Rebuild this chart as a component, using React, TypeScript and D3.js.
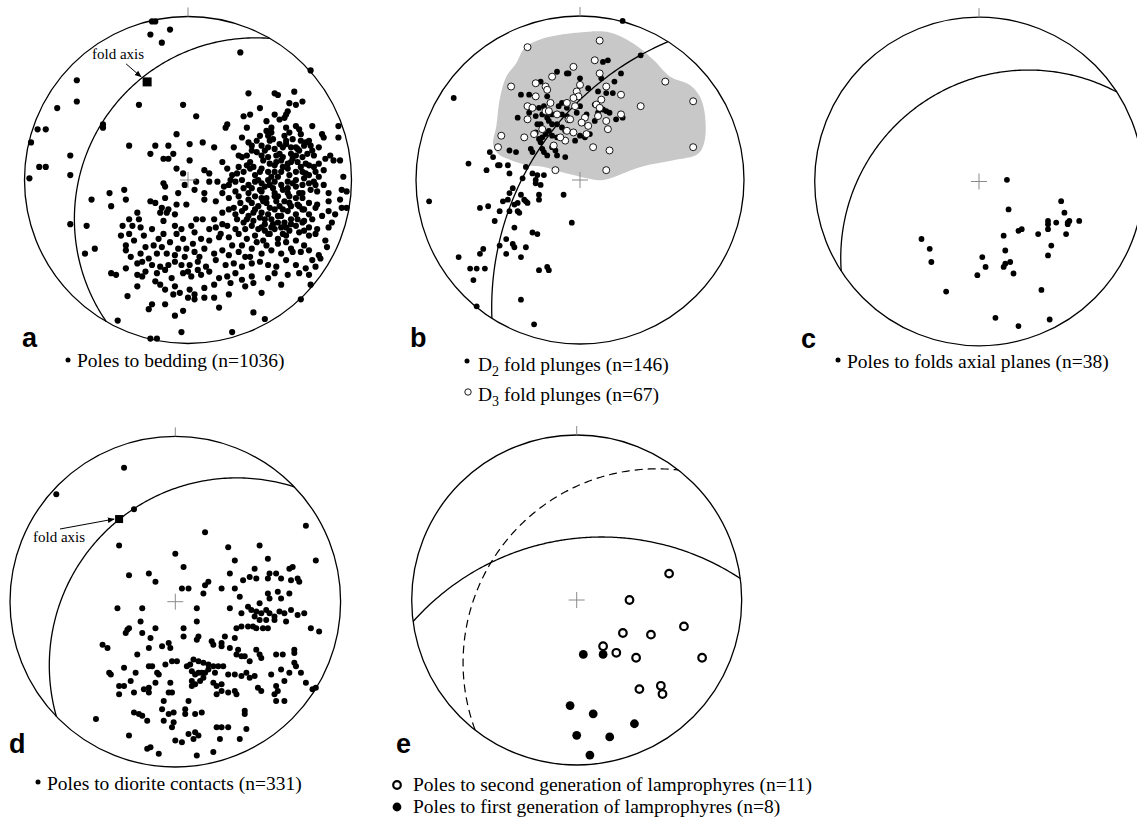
import React from 'react';
import * as d3 from 'd3';

type Pt = [number, number];

const beddingPoles: Pt[] = [
  [-22,97],[-20,97],[-23,89],[-11,92],[-16,84],[32,78],[75,67],[-68,61],[-68,48],[-80,44],[-92,31],[-87,31],
  [-96,23],[-72,15],[-91,8],[-87,8],[-97,1],[-72,3],[-72,-27],[-62,-28],[-57,-42],[-63,-45],[-59,-12],
  [37,53],[53,53],[55,52],[65,54],[70,48],[62,47],[66,46],[44,44],[-30,46],[-3,46],[61,42],[34,39],[38,40],
  [53,40],[60,40],[56,37],[59,38],[48,36],[5,39],[24,34],[23,32],[36,32],[51,32],[66,33],[68,31],[76,33],
  [92,33],[62,29],[51,29],[-52,34],[-52,32],[-7,28],[49,27],[50,24],[33,26],[37,23],[42,24],[45,21],[1,22],
  [9,23],[16,20],[28,20],[39,21],[60,24],[69,24],[82,28],[83,26],[92,26],[63,20],[67,19],[71,21],[75,21],
  [53,19],[58,20],[-36,21],[-20,21],[-12,21],[-9,16],[-23,16],[-15,13],[-12,13],[1,12],[21,11],[31,15],
  [33,14],[36,15],[38,11],[45,15],[49,14],[54,11],[57,12],[61,10],[66,15],[70,14],[77,15],[84,13],[87,15],
  [89,12],[93,12],[39,18],[63,11],[74,9],[77,8],[80,10],[-7,7],[-3,4],[10,6],[13,4],[24,7],[27,3],[31,8],
  [34,5],[38,7],[41,3],[45,7],[49,5],[53,9],[57,5],[61,7],[66,5],[70,5],[74,3],[78,5],[83,6],[95,2],[5,-1],
  [-15,-2],[-14,-4],[-2,-3],[13,-1],[18,-1],[22,-4],[25,-3],[29,-1],[33,0],[37,-3],[41,-1],[45,-2],[49,0],
  [53,-1],[57,-3],[61,-1],[66,0],[70,-3],[74,-2],[78,-3],[83,-3],[94,-6],[97,-7],[-48,-8],[-39,-6],[-6,-8],
  [4,-6],[10,-8],[21,-8],[29,-7],[37,-8],[45,-7],[53,-8],[61,-8],[70,-8],[79,-7],[86,-8],
  [44,27],[47,18],[52,25],[56,16],[60,22],[64,13],[68,18],[72,10],[58,8],[50,10],[43,0],[47,-4],[55,2],
  [62,3],[66,-4],[71,1],[75,-6],[52,-5],[40,8],[46,12],[54,15],[59,27],[63,16],[69,8],[73,16],[49,20],
  [42,17],[36,9],[30,4],[34,-5],[26,0],[39,-5],[61,-5],[67,11],[64,25],[55,-10],[48,-11],[41,-10],[70,-11],
  [77,-1],[80,2],[72,23],[76,18],[53,5],[44,5],[58,14],[66,20],[62,-10],[51,2],
  [48,-14],[56,-16],[63,-24],[44,-23],[52,-27],[68,-16],[58,-33],[40,-20],[71,-31],[35,-30],[47,-31],[62,-14],
  [46,-13],[50,-17],[54,-13],[58,-18],[63,-16],[67,-15],[71,-18],[43,-16],[39,-14],[35,-17],[47,-24],
  [51,-24],[55,-22],[59,-26],[63,-27],[67,-24],[71,-25],[40,-25],[36,-24],[45,-29],[49,-33],[53,-30],
  [57,-29],[62,-31],[68,-32],[42,-38],[48,-40],[55,-39],[60,-38],[64,-44],[71,-40],[30,-24],[32,-14],
  [28,-17],[21,-27],[19,-35],[27,-40],[33,-40],[38,-47],[76,-24],[82,-22],[79,-30],[58,-6],[68,-8],[44,-6],
  [50,-3],[64,-2],[72,4],[56,22],[48,30],[60,32],[69,28],[74,24],[80,20],
  [-33,-37],[-29,-45],[-24,-48],[-19,-45],[-11,-38],[-6,-42],[-2,-47],[3,-39],[7,-47],[-26,-56],[-35,-47],
  [-12,-52],[0,-56],[6,-55],[-20,-62],[-9,-70],[10,-72],[-29,-29],[-22,-30],[-18,-36],
  [-47,-16],[-38,-12],[-23,-13],[-20,-14],[-14,-11],[-7,-15],[-1,-15],[10,-12],[17,-13],[25,-11],[31,-10],
  [37,-12],[45,-11],[53,-10],[59,-13],[66,-11],[74,-14],[79,-15],[86,-13],[93,-12],[94,-17],[97,-17],
  [-16,-17],[-12,-18],[-17,-20],[-13,-20],[-8,-21],[5,-24],[9,-24],[16,-24],[21,-20],[25,-18],[29,-21],
  [33,-19],[37,-22],[41,-18],[45,-20],[49,-21],[53,-18],[57,-22],[61,-19],[66,-21],[70,-18],[74,-21],
  [78,-17],[86,-19],[90,-21],
  [-36,-24],[-30,-24],[-31,-20],[-40,-28],[-34,-28],[-15,-25],[-8,-28],[-4,-30],[2,-28],[13,-30],[17,-29],
  [24,-28],[29,-30],[34,-26],[39,-28],[43,-30],[47,-27],[51,-29],[55,-26],[60,-29],[66,-28],[70,-26],
  [74,-29],[86,-29],[88,-26],
  [-41,-34],[-36,-33],[-27,-34],[-15,-33],[-7,-33],[-3,-36],[4,-32],[8,-36],[13,-37],[20,-33],[25,-35],
  [31,-33],[36,-36],[41,-34],[46,-37],[50,-33],[55,-36],[60,-34],[66,-37],[74,-34],[78,-33],[84,-37],[85,-41],
  [-38,-40],[-38,-43],[-26,-41],[-21,-40],[-16,-41],[-13,-45],[-8,-46],[-1,-42],[4,-44],[10,-42],[16,-45],
  [21,-43],[25,-46],[31,-44],[35,-47],[39,-42],[45,-45],[51,-43],[57,-45],[63,-42],[69,-44],[74,-43],
  [80,-46],[81,-48],
  [-47,-57],[-44,-58],[-38,-54],[-31,-51],[-28,-50],[-22,-52],[-17,-53],[-8,-50],[-4,-52],[1,-52],[6,-50],
  [11,-53],[17,-49],[23,-52],[28,-51],[33,-53],[39,-51],[44,-50],[49,-52],[54,-53],[60,-49],[66,-52],
  [72,-54],[78,-53],[76,-49],
  [-31,-58],[-28,-59],[-19,-57],[-14,-55],[-10,-60],[-3,-57],[2,-59],[8,-58],[13,-56],[19,-60],[24,-59],
  [29,-57],[33,-61],[39,-59],[49,-60],[53,-57],[61,-58],[68,-57],[74,-58],
  [-31,-65],[-17,-64],[-14,-67],[-8,-65],[-5,-69],[1,-67],[4,-70],[10,-66],[16,-64],[26,-63],[35,-65],
  [40,-63],[57,-64],[45,-69],[75,-64],
  [-37,-71],[-22,-76],[-24,-79],[-14,-76],[-3,-80],[0,-72],[4,-73],[16,-72],[19,-78],[25,-70],[40,-81],[69,-73],
  [-43,-86],[-8,-83],[-4,-93],[27,-93],[47,-85],[-23,-97],[-19,-97],
];

const d2Plunges: Pt[] = [
  [26,97],[-77,50],[-92,-13],[-63,-77],[-28,-88],[-36,-73],[-5,-26],[-10,-9],[37,76],
  [14,72],[17,73],[-14,66],[-8,65],[-7,65],[0,62],[5,56],[13,62],[21,60],[25,65],[-24,60],[-36,52],[-31,52],
  [-20,51],[11,54],[16,53],[20,53],[-25,44],[-22,45],[-13,45],[-11,47],[-8,44],[0,45],[9,46],[14,43],[16,42],
  [-38,38],[-31,41],[-27,39],[-23,40],[-20,38],[-17,40],[-11,40],[-8,39],[-2,41],[4,40],[11,41],[18,41],
  [22,37],[26,38],[9,36],[-26,34],[-24,34],[-19,36],[-17,34],[-14,34],[-11,32],[-9,30],[-27,29],[-25,25],
  [-24,23],[-23,26],[-21,28],[-19,30],[-17,27],[-14,26],[0,27],[3,26],[-3,24],[6,28],[-30,19],[-29,17],
  [-23,19],[-22,17],[-20,15],[-17,20],[-15,18],[-14,15],[-9,14],[-43,18],[-39,17],[-55,17],[-53,14],
  [-68,10],[-57,6],[-50,9],[-49,9],[-44,9],[-43,4],[-35,1],[-33,8],[-29,4],[-27,0],[-27,-2],[-26,3],[-22,3],
  [-41,-5],[-43,-8],[-44,-12],[-47,-13],[-40,-15],[-38,-14],[-33,-13],[-34,-12],[-25,-9],[-25,-12],[-24,-3],
  [-36,-9],[-32,-14],[-37,-20],
  [-61,-17],[-56,-16],[-49,-19],[-52,-25],[-43,-19],[-38,-19],[-40,-29],[-29,-32],[-26,-33],[-45,-36],
  [-41,-39],[-40,-41],[-49,-40],[-33,-41],[-59,-42],[-61,-45],[-45,-45],[-36,-47],[-74,-47],[-67,-54],
  [-63,-54],[-58,-54],[-65,-61],[-25,-55],[-20,-53],[-19,-55],
];

const d3Plunges: Pt[] = [
  [12,85],[-32,81],[9,73],[-4,69],[12,65],[-17,63],[-42,57],[-27,59],[-21,57],[0,58],[-2,54],[-1,51],[52,60],
  [-27,51],[25,52],[13,49],[10,46],[-18,47],[-8,47],[-3,45],[-32,45],[-29,44],[-21,42],[-19,42],[-14,40],
  [37,45],[69,48],[3,38],[1,35],[11,39],[16,36],[25,40],[-32,37],[-7,37],[-23,31],[-28,28],[-34,26],[-8,30],
  [-4,29],[4,28],[-9,24],[-16,21],[-48,27],[-50,20],[8,20],[18,18],[69,20],[-15,6],[16,6],[-4,50],[16,57],
  [-6,37],[17,31],[12,44],[-20,55],[5,33],[-12,26],
];

const d3Envelope: Pt[] = [
  [-32,82],[-20,87],[0,90],[18,90],[33,83],[45,73],[55,63],[67,58],[73,51],[76,41],[76,24],[72,16],[57,12],
  [37,8],[14,0],[4,1],[-4,3],[-12,5],[-22,8],[-32,9],[-42,12],[-50,16],[-53,22],[-51,33],[-49,49],[-45,63],
  [-39,71],[-35,79],
];

const axialPlanePoles: Pt[] = [
  [17,1],[18,-17],[50,-12],[52,-19],[42,-24],[42,-26],[47,-25],[54,-25],[55,-24],[54,-26],[61,-24],[42,-29],
  [53,-32],[36,-32],[24,-30],[26,-29],[15,-33],[44,-39],[42,-45],[16,-42],[-35,-35],[-30,-41],[-29,-49],
  [2,-46],[4,-52],[15,-52],[16,-50],[19,-49],[21,-56],[-1,-57],[-20,-67],[38,-66],[10,-83],[24,-88],[43,-84],
];

const dioritePoles: Pt[] = [
  [-31,81],[-72,65],[-25,56],[79,46],
  [18,42],[-34,34],[32,33],[51,34],[85,25],[0,29],[36,25],[56,26],[5,21],[-28,16],[-16,17],[-12,12],[33,17],
  [48,20],[41,13],[45,15],[49,14],[56,14],[57,17],[61,17],[64,14],[69,20],[71,21],[70,13],[74,14],[75,12],
  [18,10],[20,12],[17,5],[4,8],[8,8],[28,8],[36,8],[39,3],[56,5],[62,6],[69,5],[57,2],[64,2],[51,-1],
  [-35,-4],[-20,-4],[13,-4],[33,-4],[40,-7],[44,-3],[46,-5],[49,-6],[52,-7],[55,-5],[57,-7],[60,-9],[63,-6],
  [66,-7],[70,-5],[74,-8],[78,-7],[48,-9],[51,-11],[55,-11],[60,-11],[67,-12],[-21,-12],[13,-12],[47,-15],
  [49,-16],[37,-16],[40,-15],[44,-15],[53,-16],[56,-16],[-28,-16],[-30,-19],[-29,-17],[-12,-16],[5,-16],
  [82,-16],[87,-18],[-20,-19],[5,-21],[13,-23],[14,-21],[22,-24],[23,-26],[28,-25],[28,-27],[-44,-26],
  [-41,-28],[-15,-22],[-16,-28],[-8,-27],[-4,-25],[-3,-28],[30,-21],[36,-22],[33,-28],[37,-32],[40,-33],
  [42,-33],[38,-29],[45,-36],[49,-29],[51,-32],[52,-34],[61,-32],[65,-32],[72,-29],[72,-31],[-23,-32],
  [-2,-36],[1,-36],[11,-35],[14,-36],[17,-37],[20,-38],[23,-39],[26,-39],[29,-39],[7,-39],[9,-38],[10,-42],
  [12,-44],[14,-43],[16,-43],[18,-43],[20,-41],[24,-43],[-16,-39],[-14,-39],[-6,-38],[-31,-40],[-24,-43],
  [-11,-43],[-10,-44],[-40,-43],[-39,-44],[32,-44],[36,-44],[40,-45],[43,-43],[45,-46],[48,-45],[58,-44],
  [64,-41],[69,-43],[73,-39],[76,-43],[72,-37],[-27,-48],[-34,-51],[-31,-51],[-34,-56],[-16,-52],[-16,-55],
  [-19,-53],[-3,-49],[-2,-55],[-4,-55],[-12,-49],[-25,-55],[10,-48],[12,-50],[15,-48],[17,-46],[10,-51],
  [23,-49],[25,-51],[28,-50],[25,-56],[28,-54],[32,-55],[36,-54],[37,-56],[50,-52],[52,-54],[61,-51],
  [62,-54],[60,-56],[66,-48],[79,-49],[83,-53],[85,-52],[66,-60],[61,-60],[-7,-60],[-8,-65],[8,-60],
  [-48,-71],[-25,-67],[-22,-68],[-20,-69],[-17,-72],[-7,-72],[-4,-68],[-1,-67],[6,-65],[6,-68],[12,-68],
  [16,-67],[-1,-73],[-2,-76],[42,-66],[42,-68],[25,-76],[28,-76],[32,-76],[43,-77],[-28,-81],[8,-80],
  [12,-79],[14,-81],[11,-83],[0,-84],[4,-85],[27,-83],[39,-83],[-17,-89],[-15,-88],[-10,-92],[13,-93],[23,-91],
];

const lamproSecondGen: Pt[] = [
  [56,16],[32,0],[65,-16],[28,-20],[45,-21],[16,-28],[24,-32],[36,-35],[76,-35],[38,-54],[51,-52],[52,-57],
];
const lamproFirstGen: Pt[] = [
  [4,-33],[16,-33],[-4,-64],[10,-69],[35,-75],[0,-82],[20,-83],[8,-94],
];

// great circles as [dip direction, dip] in degrees
const circleA: Pt = [300, 25.5];
const circleB: Pt = [302.5, 55.4];
const circleC: Pt = [327, 29];
const circleD: Pt = [316, 28.2];
const circleE: Pt = [352.5, 49.2];
const circleEDashed: Pt = [308, 31.7];

const foldAxisA: Pt = [-25, 60];
const foldAxisD: Pt = [-34, 50];

const RAD = Math.PI / 180;
const SERIF = '"Liberation Serif", "Times New Roman", serif';
const SANS = '"Liberation Sans", Arial, sans-serif';

const netScales = (cx: number, cy: number, r: number) => ({
  x: d3.scaleLinear().domain([-100, 100]).range([cx - r, cx + r]),
  y: d3.scaleLinear().domain([-100, 100]).range([cy + r, cy - r]),
  cx, cy, r,
});
type Net = ReturnType<typeof netScales>;

const netA = netScales(188, 180, 163.5);
const netB = netScales(580, 180, 164);
const netC = netScales(979, 181.5, 164.3);
const netD = netScales(175.3, 601.7, 165.3);
const netE = netScales(576.7, 600, 165);

// stereographic trace of a plane
const greatCircle = (n: Net, [dipDir, dip]: Pt) => {
  const pts: [number, number][] = [];
  for (let a = -90; a <= 90; a += 1) {
    const az = (dipDir + a) * RAD;
    const p = Math.atan(Math.tan(dip * RAD) * Math.cos(a * RAD));
    const rr = 100 * Math.tan((Math.PI / 2 - p) / 2);
    pts.push([n.x(rr * Math.sin(az)), n.y(rr * Math.cos(az))]);
  }
  return d3.line()(pts) || '';
};

const Frame = ({ n }: { n: Net }) => (
  <circle cx={n.cx} cy={n.cy} r={n.r} fill="none" stroke="#000" strokeWidth={1.3} />
);

const Marks = ({ n }: { n: Net }) => (
  <g stroke="#8a8a8a" strokeWidth={1}>
    <line x1={n.cx} x2={n.cx} y1={n.cy - n.r - 9} y2={n.cy - n.r} />
    <line x1={n.cx - 8} x2={n.cx + 8} y1={n.cy} y2={n.cy} />
    <line x1={n.cx} x2={n.cx} y1={n.cy - 8} y2={n.cy + 8} />
  </g>
);

const Dots = ({ n, data, r, fill = '#000', stroke = 'none', sw = 0 }:
  { n: Net; data: Pt[]; r: number; fill?: string; stroke?: string; sw?: number }) => (
  <g>
    {data.map((d, i) => (
      <circle key={i} cx={n.x(d[0])} cy={n.y(d[1])} r={r} fill={fill} stroke={stroke} strokeWidth={sw} />
    ))}
  </g>
);

const Letter = ({ x, y, t }: { x: number; y: number; t: string }) => (
  <text x={x} y={y} fontFamily={SANS} fontWeight="bold" fontSize={27} fill="#000">{t}</text>
);

const Legend = ({ x, y, children }: { x: number; y: number; children: React.ReactNode }) => (
  <text x={x} y={y} fontFamily={SERIF} fontSize={19.5} fill="#000">{children}</text>
);

export default function App() {
  const envelope = d3.line().curve(d3.curveCatmullRomClosed)(
    d3Envelope.map((d) => [netB.x(d[0]), netB.y(d[1])] as [number, number])
  ) || '';
  const sqA = [netA.x(foldAxisA[0]), netA.y(foldAxisA[1])];
  const sqD = [netD.x(foldAxisD[0]), netD.y(foldAxisD[1])];

  return (
    <svg width={1137} height={828} style={{ position: 'absolute', left: 0, top: 0, background: '#fff' }}>
      <defs>
        <marker id="arrow" viewBox="0 0 10 10" refX={9} refY={5} markerWidth={7} markerHeight={7} orient="auto">
          <path d="M0,1 L10,5 L0,9 Z" fill="#000" />
        </marker>
      </defs>

      {/* a */}
      <Frame n={netA} />
      <path d={greatCircle(netA, circleA)} fill="none" stroke="#000" strokeWidth={1.3} />
      <Dots n={netA} data={beddingPoles} r={3.1} />
      <rect x={sqA[0] - 4.5} y={sqA[1] - 4.5} width={9} height={9} fill="#000" />
      <text x={92} y={59} fontFamily={SERIF} fontSize={15}>fold axis</text>
      <line x1={sqA[0] - 21} y1={sqA[1] - 18} x2={sqA[0] - 6} y2={sqA[1] - 5} stroke="#000" strokeWidth={1} markerEnd="url(#arrow)" />
      <Marks n={netA} />
      <Letter x={22} y={347} t="a" />
      <circle cx={68} cy={360} r={2.5} fill="#000" />
      <Legend x={77} y={367}>Poles to bedding (n=1036)</Legend>

      {/* b */}
      <path d={envelope} fill="#c8c8c8" stroke="none" />
      <Frame n={netB} />
      <path d={greatCircle(netB, circleB)} fill="none" stroke="#000" strokeWidth={1.3} />
      <Dots n={netB} data={d2Plunges} r={2.9} />
      <Dots n={netB} data={d3Plunges} r={3.5} fill="#fff" stroke="#000" sw={0.9} />
      <Marks n={netB} />
      <Letter x={410} y={347} t="b" />
      <circle cx={467} cy={361} r={2.5} fill="#000" />
      <Legend x={478} y={371}>
        D<tspan fontSize={14} dy={5}>2</tspan><tspan dy={-5}> fold plunges (n=146)</tspan>
      </Legend>
      <circle cx={468} cy={392} r={3.2} fill="#fff" stroke="#000" strokeWidth={0.9} />
      <Legend x={478} y={401}>
        D<tspan fontSize={14} dy={5}>3</tspan><tspan dy={-5}> fold plunges (n=67)</tspan>
      </Legend>

      {/* c */}
      <Frame n={netC} />
      <path d={greatCircle(netC, circleC)} fill="none" stroke="#000" strokeWidth={1.3} />
      <Dots n={netC} data={axialPlanePoles} r={2.9} />
      <Marks n={netC} />
      <Letter x={801} y={348} t="c" />
      <circle cx={838} cy={360} r={2.5} fill="#000" />
      <Legend x={847} y={368}>Poles to folds axial planes (n=38)</Legend>

      {/* d */}
      <Frame n={netD} />
      <path d={greatCircle(netD, circleD)} fill="none" stroke="#000" strokeWidth={1.3} />
      <Dots n={netD} data={dioritePoles} r={3} />
      <rect x={sqD[0] - 4} y={sqD[1] - 4} width={8} height={8} fill="#000" />
      <text x={33} y={542} fontFamily={SERIF} fontSize={15}>fold axis</text>
      <line x1={60} y1={529} x2={sqD[0] - 5} y2={sqD[1]} stroke="#000" strokeWidth={1} markerEnd="url(#arrow)" />
      <Marks n={netD} />
      <Letter x={9} y={753} t="d" />
      <circle cx={38} cy={782} r={2.5} fill="#000" />
      <Legend x={47} y={790}>Poles to diorite contacts (n=331)</Legend>

      {/* e */}
      <Frame n={netE} />
      <path d={greatCircle(netE, circleE)} fill="none" stroke="#000" strokeWidth={1.3} />
      <path d={greatCircle(netE, circleEDashed)} fill="none" stroke="#000" strokeWidth={1.2} strokeDasharray="8,5" />
      <Dots n={netE} data={lamproSecondGen} r={3.8} fill="#fff" stroke="#000" sw={2.2} />
      <Dots n={netE} data={lamproFirstGen} r={4.4} />
      <Marks n={netE} />
      <Letter x={396} y={753} t="e" />
      <circle cx={397} cy={785} r={3.8} fill="#fff" stroke="#000" strokeWidth={2.2} />
      <Legend x={413} y={791}>Poles to second generation of lamprophyres (n=11)</Legend>
      <circle cx={397} cy={807} r={4.4} fill="#000" />
      <Legend x={413} y={813}>Poles to first generation of lamprophyres (n=8)</Legend>
    </svg>
  );
}
